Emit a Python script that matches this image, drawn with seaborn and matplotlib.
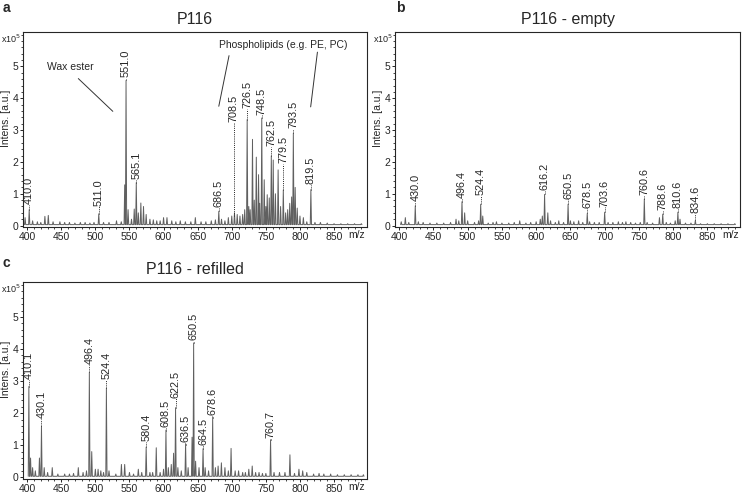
import numpy as np
import pandas as pd
import seaborn as sns
import matplotlib
matplotlib.use("Agg")
import matplotlib.pyplot as plt
from matplotlib.ticker import MultipleLocator

# ---------------- data (intensity in x10^5 a.u.) ----------------
titles = ["P116", "P116 - empty", "P116 - refilled"]

# panel a: spectrum peaks (m/z as drawn, intensity)
mz_a = [397, 403, 408, 415, 420, 426, 431, 438, 448, 455, 462, 470, 478, 485, 492, 498,
        505, 512, 520, 531, 538, 543, 545, 548, 553, 557, 560, 563, 566.7, 570.6, 574.5,
        580, 585, 590, 595, 600, 605, 612, 618, 624.5, 632, 640, 646.6, 655, 662, 670,
        676, 681, 685, 690, 695, 700, 704, 708, 712, 716, 719, 722.6, 725, 727, 730.4,
        733, 736, 739.3, 741, 744, 747.6, 750, 752, 755, 758, 760.8, 764, 768, 771.6,
        775.6, 779, 782, 785, 787.8, 790.3, 793, 796, 800, 805, 810, 816, 822, 830, 840,
        850, 860, 870, 880, 890]
int_a = [0.25, 0.5, 0.15, 0.12, 0.1, 0.29, 0.32, 0.12, 0.12, 0.1, 0.1, 0.08, 0.1, 0.1, 0.08, 0.1,
         0.37, 0.1, 0.1, 0.15, 0.12, 1.28, 4.56, 0.5, 0.2, 0.52, 1.35, 0.4, 0.71, 0.6, 0.35,
         0.2, 0.18, 0.15, 0.15, 0.25, 0.25, 0.15, 0.12, 0.15, 0.12, 0.12, 0.25, 0.12, 0.12, 0.15,
         0.18, 0.45, 0.2, 0.15, 0.25, 0.3, 0.4, 0.35, 0.3, 0.35, 0.5, 3.33, 0.6, 0.5, 2.71,
         0.8, 2.15, 1.6, 0.7, 3.38, 1.44, 0.6, 0.97, 0.87, 2.19, 2.06, 1.0, 1.75, 0.6,
         1.12, 0.4, 0.5, 0.7, 0.9, 2.9, 1.2, 0.55, 0.3, 0.25, 0.12, 1.13, 0.1, 0.1, 0.08,
         0.06, 0.06, 0.06, 0.06, 0.06]
lab_a = ["410.0", "511.0", "551.0", "565.1", "686.5", "708.5", "726.5", "748.5",
         "762.5", "779.5", "793.5", "819.5"]
lab_pos_a = [403, 505, 545, 560, 681, 703, 722.6, 744, 758, 775.6, 790.3, 816]
lab_base_a = [0.5, 0.37, 4.56, 1.35, 0.45, 0.3, 3.33, 3.38, 2.19, 1.12, 2.9, 1.13]
lab_y_a = [0.65, 0.6, 4.64, 1.43, 0.55, 3.25, 3.67, 3.46, 2.47, 1.95, 3.05, 1.28]

# panel b
mz_b = [403, 409, 414, 423.5, 428, 435, 445, 455, 465, 475, 483, 487, 491.7, 495.6, 500,
        510, 516, 519, 522, 530, 537, 542, 550, 560, 568, 576, 585, 592, 600, 606, 609,
        612.3, 617, 621, 628, 633, 640, 646.6, 650, 655, 662, 668, 674.6, 678, 685, 692,
        700, 705, 712, 720, 726, 731, 738, 745, 752, 757.9, 762, 770, 780, 784.8, 790,
        796, 803, 806.9, 810, 818, 826, 832.4, 840, 850, 860, 870, 880, 890]
int_b = [0.12, 0.25, 0.1, 0.62, 0.12, 0.1, 0.08, 0.08, 0.08, 0.1, 0.2, 0.15, 0.75, 0.4, 0.15,
         0.1, 0.15, 0.67, 0.3, 0.08, 0.1, 0.12, 0.08, 0.08, 0.1, 0.15, 0.08, 0.1, 0.12, 0.2, 0.3,
         0.98, 0.4, 0.15, 0.1, 0.15, 0.1, 0.67, 0.15, 0.12, 0.15, 0.1, 0.38, 0.12, 0.1, 0.1,
         0.42, 0.1, 0.1, 0.12, 0.1, 0.12, 0.1, 0.08, 0.1, 0.83, 0.1, 0.08, 0.25, 0.36, 0.1,
         0.08, 0.15, 0.42, 0.2, 0.08, 0.08, 0.16, 0.06, 0.06, 0.06, 0.06, 0.06, 0.06]
lab_b = ["430.0", "496.4", "524.4", "616.2", "650.5", "678.5", "703.6", "760.6",
         "788.6", "810.6", "834.6"]
lab_pos_b = [423.5, 491.7, 519, 612.3, 646.6, 674.6, 700, 757.9, 784.8, 806.9, 832.4]
lab_base_b = [0.62, 0.75, 0.67, 0.98, 0.67, 0.38, 0.42, 0.83, 0.36, 0.42, 0.16]
lab_y_b = [0.75, 0.85, 0.93, 1.09, 0.83, 0.54, 0.57, 0.93, 0.47, 0.52, 0.36]

# panel c
mz_c = [402.5, 405, 408, 412, 418, 421, 425, 430, 436.8, 445, 455, 462, 468, 475, 482, 487,
        491.2, 494.7, 500, 504, 508, 512, 516.2, 520, 530, 538.2, 543, 550, 556, 563, 568,
        574.5, 580, 584, 589.3, 595, 600, 603.5, 607, 611.3, 614.7, 617.6, 621, 626, 632.3,
        636, 641.8, 644.1, 647, 652, 657.9, 661, 666, 672, 676, 680, 684.8, 690, 695, 699,
        705, 710, 716, 720, 725, 730, 735, 740, 745, 750, 756.9, 762, 770, 778, 785.3, 792,
        798.5, 804, 810, 820, 828, 835, 845, 855, 865, 875, 885, 893]
int_c = [2.83, 0.6, 0.3, 0.2, 0.6, 1.59, 0.3, 0.15, 0.3, 0.1, 0.1, 0.1, 0.12, 0.3, 0.15, 0.2,
         3.27, 0.8, 0.25, 0.25, 0.2, 0.15, 2.78, 0.2, 0.1, 0.4, 0.4, 0.15, 0.1, 0.25, 0.15,
         0.94, 0.15, 0.15, 0.92, 0.15, 0.25, 1.47, 0.3, 0.4, 0.75, 2.17, 0.3, 0.2, 1.05,
         0.3, 1.25, 4.19, 0.5, 0.3, 0.89, 0.3, 0.2, 1.89, 0.3, 0.35, 0.45, 0.3, 0.2, 0.9,
         0.2, 0.2, 0.15, 0.15, 0.25, 0.35, 0.15, 0.15, 0.12, 0.12, 1.17, 0.15, 0.15, 0.15, 0.7, 0.12,
         0.25, 0.2, 0.15, 0.1, 0.12, 0.1, 0.1, 0.08, 0.08, 0.08, 0.08, 0.08]
lab_c = ["410.1", "430.1", "496.4", "524.4", "580.4", "608.5", "622.5", "636.5",
         "650.5", "664.5", "678.6", "760.7"]
lab_pos_c = [402.5, 421, 491.2, 516.2, 574.5, 603.5, 617.6, 632.3, 644.1, 657.9, 672, 756.9]
lab_base_c = [2.83, 1.59, 3.27, 2.78, 0.94, 1.45, 2.17, 1.0, 4.19, 0.89, 1.85, 1.15]
lab_y_c = [3.04, 1.83, 3.51, 3.04, 1.1, 1.55, 2.46, 1.08, 4.25, 1.0, 1.92, 1.2]

x_ticks = [400, 450, 500, 550, 600, 650, 700, 750, 800, 850]
y_ticks = [0, 1, 2, 3, 4, 5]

# ---------------- style ----------------
sns.set_style("ticks")
plt.rcParams["font.family"] = ["Liberation Sans", "DejaVu Sans"]
plt.rcParams["axes.linewidth"] = 0.8

fig = plt.figure(figsize=(7.44, 4.94), dpi=100)
ax_a = fig.add_axes([0.031, 0.5395, 0.462, 0.3955])
ax_b = fig.add_axes([0.531, 0.5395, 0.464, 0.3955])
ax_c = fig.add_axes([0.031, 0.03, 0.462, 0.3985])

BASE = 0.03
HW = 0.9


def profile(mz, inten):
    xs, ys = [], []
    for m, h in sorted(zip(mz, inten)):
        xs += [m - HW, m, m + HW]
        ys += [BASE, h, BASE]
    return pd.DataFrame({"mz": xs, "intensity": ys})


def draw(ax, mz, inten, labs, lpos, lbase, ly, title):
    df = profile(mz, inten)
    sns.lineplot(data=df, x="mz", y="intensity", ax=ax, sort=False, estimator=None,
                 color="#606060", lw=0.7)
    for t, p, b, y in zip(labs, lpos, lbase, ly):
        ax.plot([p, p], [b, y], ls=(0, (1, 1.2)), color="#222222", lw=0.7)
        ax.text(p, y + 0.02, t, rotation=90, ha="center", va="bottom", fontsize=7.8)
    ax.set_xlim(394, 898)
    ax.set_ylim(-0.06, 6.08)
    ax.set_xticks(x_ticks)
    ax.set_yticks(y_ticks)
    ax.xaxis.set_minor_locator(MultipleLocator(10))
    ax.yaxis.set_minor_locator(MultipleLocator(0.2))
    ax.tick_params(which="major", length=2.5, width=0.7, labelsize=7.5, pad=1)
    ax.tick_params(which="minor", length=1.6, width=0.6)
    for s in ax.spines.values():
        s.set_visible(True)
        s.set_linewidth(0.8)
    ax.set_xlabel("")
    ax.set_ylabel("Intens. [a.u.]", fontsize=7.5, labelpad=1)
    ax.yaxis.set_label_coords(-0.034, 0.56)
    ax.text(-0.006, 1.0, "x10$^5$", transform=ax.transAxes, fontsize=6.5,
            ha="right", va="top")
    ax.text(0.995, -0.012, "m/z", transform=ax.transAxes, fontsize=7.5,
            ha="right", va="top")
    ax.set_title(title, fontsize=11.5, pad=6)


draw(ax_a, mz_a, int_a, lab_a, lab_pos_a, lab_base_a, lab_y_a, titles[0])
draw(ax_b, mz_b, int_b, lab_b, lab_pos_b, lab_base_b, lab_y_b, titles[1])
draw(ax_c, mz_c, int_c, lab_c, lab_pos_c, lab_base_c, lab_y_c, titles[2])

# annotations in panel a
ax_a.text(464, 4.98, "Wax ester", fontsize=7.5, ha="center", va="center")
ax_a.plot([475, 525.6], [4.62, 3.59], color="#333333", lw=0.7)
ax_a.text(776, 5.66, "Phospholipids (e.g. PE, PC)", fontsize=7.5, ha="center", va="center")
ax_a.plot([696, 681], [5.34, 3.75], color="#333333", lw=0.7)
ax_a.plot([825.6, 815.7], [5.45, 3.73], color="#333333", lw=0.7)

fig.text(0.004, 0.997, "a", fontsize=10, weight="bold", va="top")
fig.text(0.532, 0.997, "b", fontsize=10, weight="bold", va="top")
fig.text(0.004, 0.482, "c", fontsize=10, weight="bold", va="top")

fig.savefig("out.png", dpi=100)
